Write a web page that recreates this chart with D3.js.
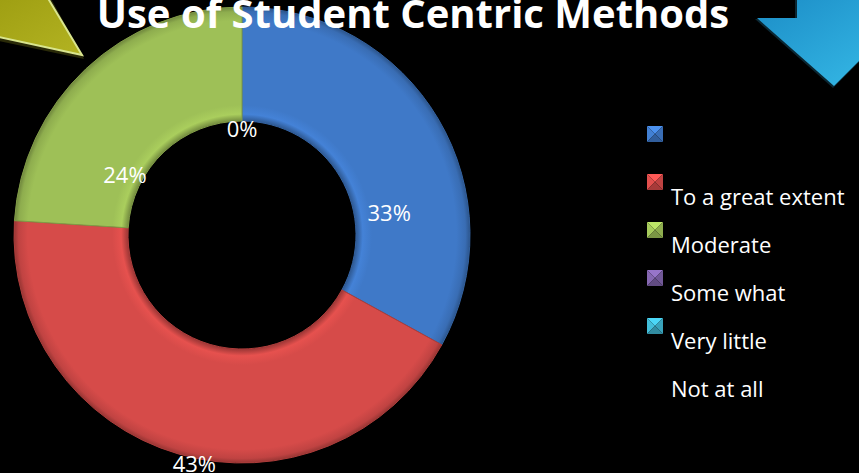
<!DOCTYPE html>
<html>
<head>
<meta charset="utf-8">
<script src="https://cdn.jsdelivr.net/npm/d3@7"></script>
<style>
  body { margin: 0; background: #000; }
  svg { display: block; }
  .title { font-family: "Open Sans", sans-serif; font-weight: bold; font-size: 40px; fill: #fff; }
  .pct { font-family: "Open Sans", sans-serif; font-size: 22px; fill: #fff; }
  .legend { font-family: "Open Sans", sans-serif; font-size: 22px; fill: #fff; }
</style>
</head>
<body>
<div id="chart"></div>
<script>
var width = 859, height = 473;

// chart data
var legendLabels = ["", "To a great extent", "Moderate", "Some what", "Very little", "Not at all"];
var sliceValues = [33, 43, 24, 0, 0];
var sliceColors = ["#3f79c8", "#d64b49", "#9ec057", "#7e62a8", "#3fb4cf"];

var cx = 242, cy = 235;
var outerR = 228, innerR = 114;
var labelDrop = 65;

var svg = d3.select("#chart")
    .append("svg")
    .attr("width", width)
    .attr("height", height)
    .style("background", "#000")

var defs = svg.append("defs")

// bevel gradients for slices (centre is the group's origin)
sliceColors.forEach(function (c, i) {
    var g = defs.append("radialGradient")
        .attr("id", "bev" + i)
        .attr("gradientUnits", "userSpaceOnUse")
        .attr("cx", 0).attr("cy", 0).attr("r", outerR)
    var base = d3.rgb(c)
    var k = innerR / outerR
    var stops = [
        [k, base.darker(0.9)],
        [k + 0.03, base.brighter(0.2)],
        [k + 0.07, base],
        [0.94, base],
        [0.98, base.darker(0.3)],
        [1, base.darker(1)]
    ]
    stops.forEach(function (s) {
        g.append("stop").attr("offset", s[0]).attr("stop-color", s[1])
    })
})

var olive = defs.append("linearGradient").attr("id", "olive")
    .attr("x1", 0).attr("y1", 0).attr("x2", 1).attr("y2", 1)
olive.append("stop").attr("offset", 0).attr("stop-color", "#9c9c10")
olive.append("stop").attr("offset", 1).attr("stop-color", "#b3b322")

var cyan = defs.append("linearGradient").attr("id", "cyan")
    .attr("x1", 0).attr("y1", 0).attr("x2", 1).attr("y2", 1)
cyan.append("stop").attr("offset", 0).attr("stop-color", "#1b8cc6")
cyan.append("stop").attr("offset", 1).attr("stop-color", "#38bde9")

// decorative arrows in the corners
svg.append("path")
    .attr("d", "M-20,37 L84,59 L49,-5 L-20,-5 Z")
    .attr("fill", "#2a2a08")
svg.append("path")
    .attr("d", "M-20,33 L82,55 L46,-5 L-20,-5 Z")
    .attr("fill", "url(#olive)")
    .attr("stroke", "#d9e58e")
    .attr("stroke-width", 2)

svg.append("path")
    .attr("d", "M795,-5 L795,19 L755,19 L833,88 L905,16 Z")
    .attr("fill", "#0b2733")
svg.append("path")
    .attr("d", "M797,-5 L797,18 L757,18 L834,86 L904,16 L904,-5 Z")
    .attr("fill", "url(#cyan)")

// doughnut
var pie = d3.pie().sort(null).value(function (d) { return d; })
var arc = d3.arc().innerRadius(innerR).outerRadius(outerR)
var arcs = pie(sliceValues)

var g = svg.append("g")
    .attr("transform", "translate(" + cx + "," + cy + ")")

g.selectAll("path.slice")
    .data(arcs)
    .enter().append("path")
    .attr("class", "slice")
    .attr("d", arc)
    .attr("fill", function (d, i) { return "url(#bev" + i + ")"; })
    .attr("stroke", function (d, i) { return d3.rgb(sliceColors[i]).darker(0.6); })
    .attr("stroke-width", function (d) { return d.value > 0 ? 1 : 0; })

// labels (only the last zero one shows, they overlap)
g.selectAll("text.pct")
    .data(arcs.filter(function (d, i) { return d.value > 0 || i == arcs.length - 1; }))
    .enter().append("text")
    .attr("class", "pct")
    .attr("text-anchor", "middle")
    .attr("x", function (d) { return arc.centroid(d)[0]; })
    .attr("y", function (d) { return arc.centroid(d)[1] + labelDrop + 8; })
    .text(function (d) { return d.value + "%"; })

// title
svg.append("text")
    .attr("class", "title")
    .attr("x", 413)
    .attr("y", 28)
    .attr("text-anchor", "middle")
    .text("Use of Student Centric Methods")

// legend
var legX = 647, legY = 126, legStep = 48, box = 16;
var leg = svg.append("g")

legendLabels.forEach(function (lab, i) {
    var y = legY + i * legStep
    var c = sliceColors[i]
    if (c) {
        var b = d3.rgb(c)
        var x0 = legX, y0 = y, x1 = legX + box, y1 = y + box, mx = legX + box / 2, my = y + box / 2
        leg.append("path").attr("d", "M" + x0 + "," + y0 + "L" + x1 + "," + y0 + "L" + mx + "," + my + "Z").attr("fill", b.brighter(0.5))
        leg.append("path").attr("d", "M" + x0 + "," + y0 + "L" + x0 + "," + y1 + "L" + mx + "," + my + "Z").attr("fill", b.brighter(0.15))
        leg.append("path").attr("d", "M" + x1 + "," + y0 + "L" + x1 + "," + y1 + "L" + mx + "," + my + "Z").attr("fill", b.darker(0.3))
        leg.append("path").attr("d", "M" + x0 + "," + y1 + "L" + x1 + "," + y1 + "L" + mx + "," + my + "Z").attr("fill", b.darker(0.7))
    }
    leg.append("text")
        .attr("class", "legend")
        .attr("x", 671)
        .attr("y", y + 31)
        .text(lab)
})
</script>
</body>
</html>
